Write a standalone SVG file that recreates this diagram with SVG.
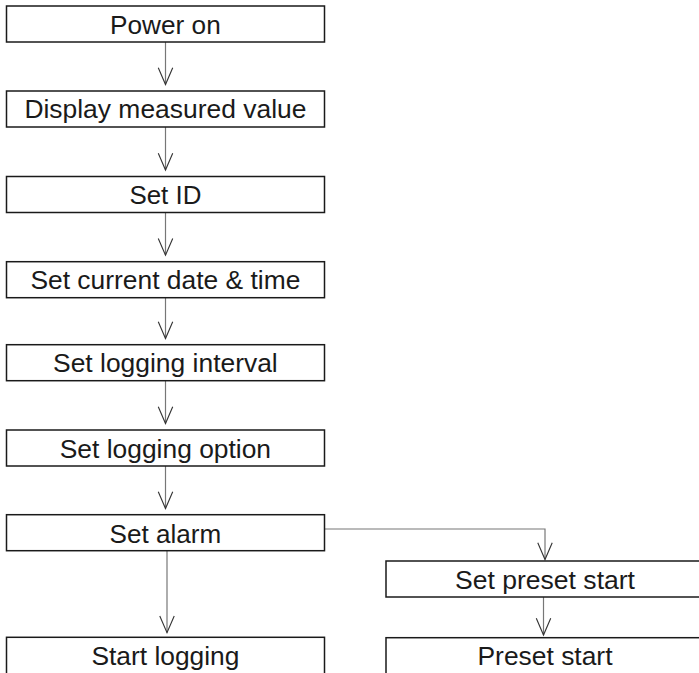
<svg xmlns="http://www.w3.org/2000/svg" width="699" height="673" viewBox="0 0 699 673">
<style>
.box{fill:#fff;stroke:#1a1a1a;stroke-width:1.5}
.lbl{font-family:"Liberation Sans",Arial,sans-serif;font-size:25px;fill:#1a1a1a;text-anchor:middle}
.conn{fill:none;stroke:#777;stroke-width:1.2}
</style>
<defs>
<marker id="arr" markerUnits="userSpaceOnUse" markerWidth="20" markerHeight="20" viewBox="-16 -8 18 16" refX="0" refY="0" orient="auto" overflow="visible">
<path d="M-15,-6.5 L0,0 L-15,6.5" fill="none" stroke="#333" stroke-width="1"/>
</marker>
</defs>
<rect width="699" height="673" fill="#fff"/>
<g id="connectors">
<line class="conn" x1="165.5" y1="42" x2="165.5" y2="84.5" marker-end="url(#arr)"/>
<line class="conn" x1="165.5" y1="127" x2="165.5" y2="170" marker-end="url(#arr)"/>
<line class="conn" x1="165.5" y1="212.5" x2="165.5" y2="255.2" marker-end="url(#arr)"/>
<line class="conn" x1="165.5" y1="297.7" x2="165.5" y2="338.5" marker-end="url(#arr)"/>
<line class="conn" x1="165.5" y1="380.7" x2="165.5" y2="423.5" marker-end="url(#arr)"/>
<line class="conn" x1="165.5" y1="466" x2="165.5" y2="508.5" marker-end="url(#arr)"/>
<line class="conn" x1="167" y1="550.7" x2="167" y2="632.7" marker-end="url(#arr)"/>
<polyline class="conn" points="324.5,529 545,529 545,559.5" marker-end="url(#arr)"/>
<line class="conn" x1="543.5" y1="590" x2="543.5" y2="635" marker-end="url(#arr)"/>
</g>
<g id="n1"><rect class="box" x="6.5" y="6" width="318" height="36"/><text class="lbl" x="165.4" y="34" textLength="110.7" lengthAdjust="spacingAndGlyphs">Power on</text></g>
<g id="n2"><rect class="box" x="6.5" y="91" width="318" height="36"/><text class="lbl" x="165.4" y="118" textLength="282" lengthAdjust="spacingAndGlyphs">Display measured value</text></g>
<g id="n3"><rect class="box" x="6.5" y="176.5" width="318" height="36"/><text class="lbl" x="165.4" y="204" textLength="72" lengthAdjust="spacingAndGlyphs">Set ID</text></g>
<g id="n4"><rect class="box" x="6.5" y="261.7" width="318" height="36"/><text class="lbl" x="165.4" y="289.2" textLength="270" lengthAdjust="spacingAndGlyphs">Set current date &amp; time</text></g>
<g id="n5"><rect class="box" x="6.5" y="344.7" width="318" height="36"/><text class="lbl" x="165.4" y="372.2" textLength="224.7" lengthAdjust="spacingAndGlyphs">Set logging interval</text></g>
<g id="n6"><rect class="box" x="6.5" y="430" width="318" height="36"/><text class="lbl" x="165.4" y="457.5" textLength="211.3" lengthAdjust="spacingAndGlyphs">Set logging option</text></g>
<g id="n7"><rect class="box" x="6.5" y="514.7" width="318" height="36"/><text class="lbl" x="165.4" y="542.5" textLength="111.7" lengthAdjust="spacingAndGlyphs">Set alarm</text></g>
<g id="n8"><rect class="box" x="6.5" y="637.3" width="318" height="50"/><text class="lbl" x="165.4" y="665" textLength="148" lengthAdjust="spacingAndGlyphs">Start logging</text></g>
<g id="n9"><rect class="box" x="386" y="561" width="318" height="36"/><text class="lbl" x="545" y="588.5" textLength="180" lengthAdjust="spacingAndGlyphs">Set preset start</text></g>
<g id="n10"><rect class="box" x="386" y="637.7" width="318" height="50"/><text class="lbl" x="545" y="665.3" textLength="135" lengthAdjust="spacingAndGlyphs">Preset start</text></g>
</svg>
